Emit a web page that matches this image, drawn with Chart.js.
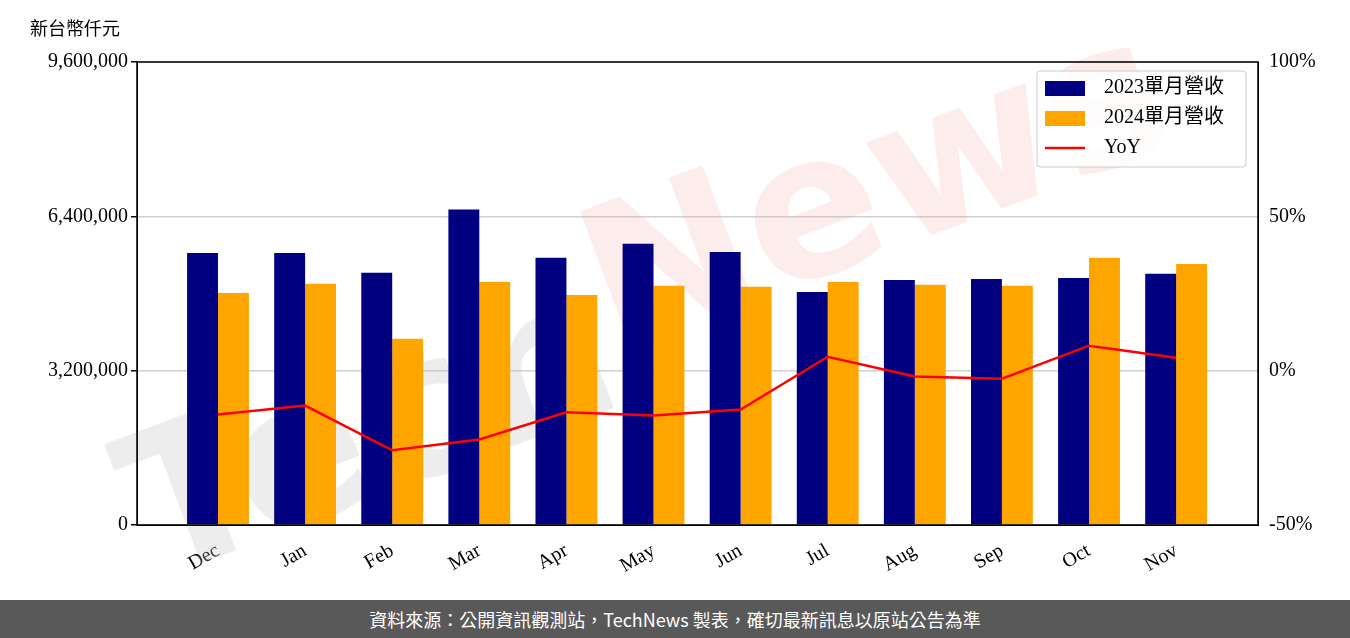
<!DOCTYPE html>
<html><head><meta charset="utf-8">
<script src="https://cdn.jsdelivr.net/npm/chart.js@4/dist/chart.umd.min.js"></script>
<style>
body{margin:0;width:1350px;height:638px;background:#fff;overflow:hidden;}
#wrap{position:absolute;left:0;top:0;width:1350px;height:600px;}
#foot{position:absolute;left:0;top:600px;width:1350px;height:38px;background:#595959;color:#fff;font:18px "Noto Sans CJK TC";text-align:center;line-height:38px;}
#unit{position:absolute;left:30px;top:14px;font:18px "Noto Sans CJK TC";color:#000;}
</style></head><body>
<div id="wrap"><canvas id="c" width="1350" height="600"></canvas></div>
<div id="unit">新台幣仟元</div>
<div id="foot">資料來源：公開資訊觀測站，TechNews 製表，確切最新訊息以原站公告為準</div>
<script>
const categories=["Dec","Jan","Feb","Mar","Apr","May","Jun","Jul","Aug","Sep","Oct","Nov"];
const rev2023=[5640000,5640000,5230000,6540000,5540000,5830000,5660000,4830000,5080000,5100000,5120000,5210000];
const rev2024=[4810000,5000000,3860000,5040000,4770000,4960000,4940000,5040000,4980000,4960000,5540000,5410000];
const yoy=[-14.2,-11.3,-25.8,-22.3,-13.5,-14.5,-12.6,4.5,-1.9,-2.6,8.1,4.2];
const leftTicks=[0,3200000,6400000,9600000];
const rightTicks=[-50,0,50,100];
const labels=["2023單月營收","2024單月營收","YoY"];
const pts=a=>a.map((v,i)=>({x:i,y:v}));
const F='"Liberation Serif","Noto Sans CJK TC"';

const extras={id:'extras',
 beforeDatasetsDraw(ch){const {ctx,chartArea:a}=ch;ctx.save();
  ctx.translate(640,300);ctx.rotate(-0.36);
  ctx.font='bold 200px "DejaVu Sans"';ctx.textAlign='center';ctx.textBaseline='middle';
  ctx.fillStyle='rgba(190,190,190,0.28)';ctx.fillText('Tech',-300,40);
  ctx.fillStyle='rgba(240,160,160,0.2)';ctx.fillText('News',260,-10);ctx.restore();},
 afterDraw(ch){const {ctx,chartArea:a}=ch;ctx.save();
  ctx.strokeStyle='#000';ctx.lineWidth=1.5;ctx.strokeRect(a.left,a.top,a.right-a.left,a.bottom-a.top);
  const x=1037,y=71,w=209,h=96;ctx.fillStyle='rgba(255,255,255,0.85)';ctx.strokeStyle='#ccc';ctx.lineWidth=1;
  ctx.beginPath();ctx.roundRect(x,y,w,h,3);ctx.fill();ctx.stroke();
  ctx.font='20px '+F;ctx.textBaseline='middle';
  const cols=['#000080','#FFA500','#FF0000'];
  labels.forEach((l,i)=>{const yy=y+17+i*30;
   if(i<2){ctx.fillStyle=cols[i];ctx.fillRect(x+8,yy-7,40,15);}
   else{ctx.strokeStyle=cols[i];ctx.lineWidth=2.5;ctx.beginPath();ctx.moveTo(x+8,yy);ctx.lineTo(x+48,yy);ctx.stroke();}
   ctx.fillStyle='#000';ctx.fillText(l,x+67,yy);});
  ctx.restore();}};

new Chart(document.getElementById('c'),{
 data:{datasets:[
  {type:'line',data:pts(yoy),yAxisID:'y2',borderColor:'#FF0000',borderWidth:2.5,pointRadius:0,tension:0,order:0},
  {type:'bar',data:pts(rev2023),backgroundColor:'#000080',yAxisID:'y',categoryPercentage:0.71,barPercentage:1,order:1},
  {type:'bar',data:pts(rev2024),backgroundColor:'#FFA500',yAxisID:'y',categoryPercentage:0.71,barPercentage:1,order:1}]},
 options:{responsive:false,animation:false,
  layout:{padding:{left:0,right:0,top:62,bottom:0}},
  plugins:{legend:{display:false},tooltip:{enabled:false}},
  scales:{
   x:{type:'linear',min:-0.93,max:11.94,offset:false,grid:{display:false},border:{color:'#000'},
      afterBuildTicks(s){s.ticks=categories.map((c,i)=>({value:i}));},
      afterFit(s){s.height=75;},
      ticks:{color:'#000',font:{family:'Liberation Serif',size:20},maxRotation:30,minRotation:30,padding:6,callback:v=>categories[v]}},
   y:{min:0,max:9600000,afterBuildTicks(s){s.ticks=leftTicks.map(v=>({value:v}));},
      afterFit(s){s.width=137;},
      grid:{color:'#d0d0d0',lineWidth:1.5,drawTicks:true,tickColor:'#000',tickLength:6},border:{color:'#000'},
      ticks:{color:'#000',font:{family:'Liberation Serif',size:20},callback:v=>v.toLocaleString('en-US')}},
   y2:{position:'right',min:-50,max:100,afterBuildTicks(s){s.ticks=rightTicks.map(v=>({value:v}));},
      afterFit(s){s.width=92;},
      grid:{display:false,drawTicks:true},border:{color:'#000'},
      ticks:{color:'#000',font:{family:'Liberation Serif',size:20},callback:v=>v+'%'}}}},
 plugins:[extras]});
</script></body></html>
